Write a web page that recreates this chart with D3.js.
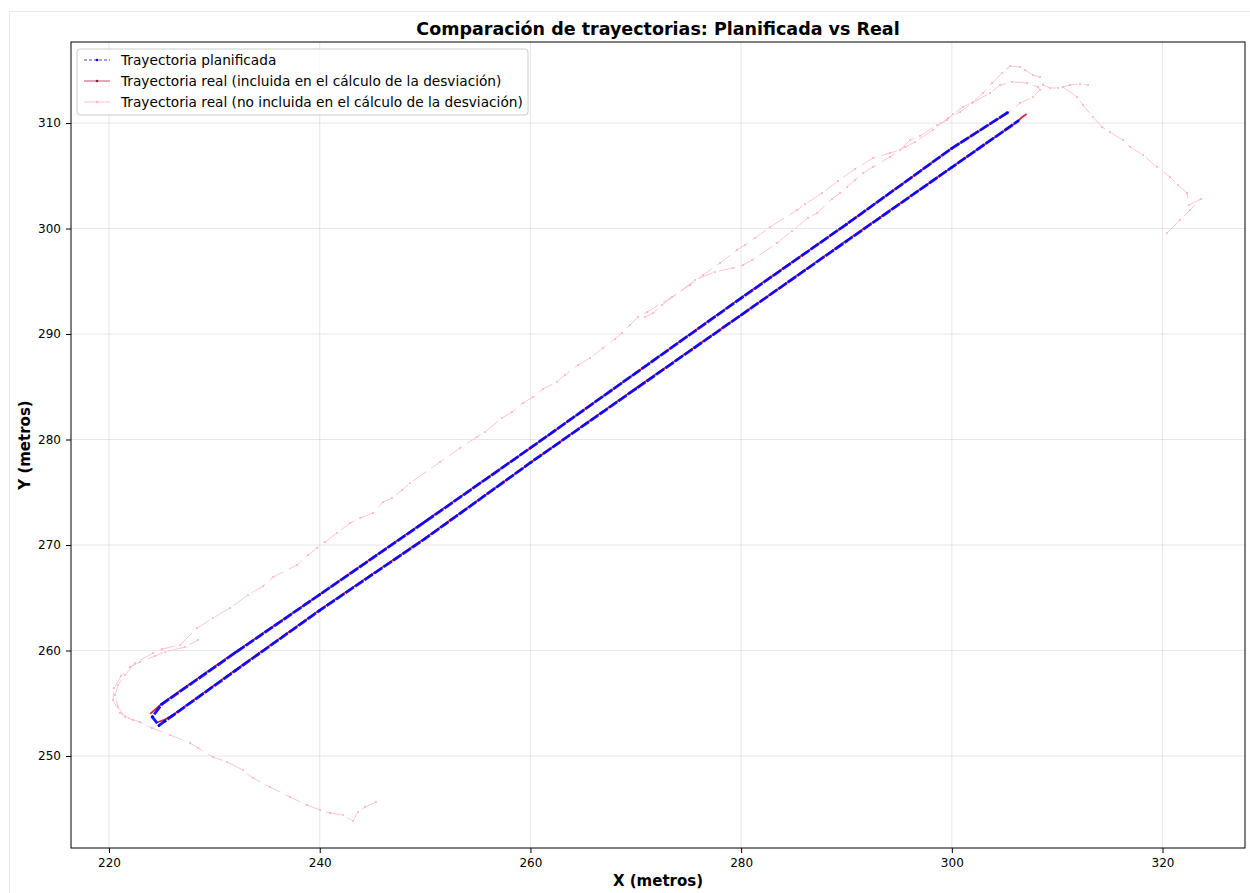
<!DOCTYPE html>
<html>
<head>
<meta charset="utf-8">
<script src="https://cdn.jsdelivr.net/npm/d3@7"></script>
<style>
  html, body { margin: 0; padding: 0; background: #fff; }
  svg { display: block; font-family: "DejaVu Sans", sans-serif; }
</style>
</head>
<body>
<div id="chart"></div>
<script>
// Ticks
const xTicks = [220, 240, 260, 280, 300, 320];
const yTicks = [250, 260, 270, 280, 290, 300, 310];

// Planned trajectory: upper pass, turn, lower pass
const planned = [
  [305.3, 311.0], [300.0, 307.6], [290.0, 300.4], [280.0, 293.4], [270.0, 286.3],
  [260.0, 279.2], [250.0, 272.2], [240.0, 265.3], [232.0, 259.8], [225.0, 254.9],
  [224.1, 253.7], [224.75, 252.9], [225.3, 253.3], [226.0, 253.8],
  [232.0, 258.1], [240.0, 263.8], [250.0, 270.6], [260.0, 277.8], [270.0, 284.8],
  [280.0, 291.8], [290.0, 298.8], [300.0, 305.8], [306.3, 310.2]
];

// Real trajectory, points included in the deviation (null = gap)
const realIncluded = [
  [223.9, 254.0], [225.0, 254.95], [232.0, 259.85], [240.0, 265.3], [250.0, 272.25],
  [260.0, 279.2], [270.0, 286.3], [280.0, 293.45], [290.0, 300.4], [300.0, 307.6], [305.3, 310.95],
  null,
  [224.6, 253.2], [225.3, 253.45], [226.0, 253.85], [232.0, 258.15], [240.0, 263.85],
  [250.0, 270.65], [260.0, 277.8], [270.0, 284.85], [280.0, 291.8], [290.0, 298.85],
  [300.0, 305.8], [306.3, 310.2], [306.6, 310.5], [307.1, 310.85]
];

// Real trajectory, points not included (null = gap)
const realExcluded = [
  [245.34, 245.64], [244.30, 245.16], [243.64, 244.69], [243.16, 243.84], [242.21, 244.41],
  [240.98, 244.60], [240.03, 244.88], [238.79, 245.35], [237.18, 246.11], [235.28, 247.06],
  [233.67, 247.91], [232.72, 248.67], [231.20, 249.43], [229.87, 249.90], [228.45, 250.76],
  [227.69, 251.23], [225.79, 251.99], [224.08, 252.65], [222.94, 253.22], [221.52, 253.69],
  [220.85, 254.64], [220.57, 255.78], [220.85, 256.73], [221.52, 257.68], [222.47, 258.81],
  [224.18, 259.76], [225.03, 260.14], [226.74, 260.52], [228.35, 262.13], [229.87, 263.08],
  [231.49, 264.03], [233.19, 265.26], [234.62, 266.11], [235.57, 266.97], [237.85, 268.10],
  [238.89, 269.05], [239.74, 269.71], [240.50, 270.28], [241.64, 271.14], [242.88, 272.08],
  [243.83, 272.56], [245.06, 273.03], [246.01, 274.07], [246.86, 274.45], [247.81, 275.21],
  [248.57, 275.88], [251.42, 277.87], [253.32, 279.19], [254.93, 280.24], [255.69, 280.71],
  [257.30, 282.04], [258.25, 282.61], [259.30, 283.46], [260.25, 284.03], [261.20, 284.79],
  [262.52, 285.45], [263.28, 286.11], [264.52, 287.06], [265.66, 287.72], [266.89, 288.67],
  [268.03, 289.53], [268.69, 290.09], [269.45, 290.85], [270.21, 291.61], [271.07, 292.08],
  [273.44, 293.51], [275.15, 294.64], [276.38, 295.59], [278.00, 296.73], [279.61, 297.96],
  [280.37, 298.44], [281.32, 299.10], [282.74, 300.14], [285.31, 301.75], [286.07, 302.32],
  [287.68, 303.36], [289.20, 304.50], [290.81, 305.64], [292.52, 306.68], [294.13, 307.16],
  [295.08, 307.44], [296.03, 308.39], [296.98, 308.77], [298.60, 309.81], [299.54, 310.28],
  [300.11, 310.85], [301.06, 311.52], [302.01, 311.99], [302.96, 312.84], [303.82, 313.79],
  [304.77, 314.74], [305.52, 315.40], [306.47, 315.31], [306.95, 315.02], [307.71, 314.55],
  [308.37, 314.36], [308.66, 313.60], [309.32, 313.32], [310.08, 313.32], [311.22, 313.60],
  [312.17, 313.70], [312.93, 313.60],
  null,
  [270.88, 291.61], [271.64, 291.99], [272.49, 292.75], [275.62, 295.12], [277.52, 295.88],
  [279.23, 296.26], [280.18, 296.54], [281.04, 297.01], [283.41, 298.63], [284.83, 299.76],
  [286.35, 301.00], [287.21, 301.47], [288.63, 302.80], [289.39, 303.36], [290.05, 303.93],
  [290.81, 304.60], [291.57, 305.26], [292.52, 305.83], [294.13, 306.78], [295.56, 307.73],
  [296.51, 308.20], [298.21, 309.34], [299.64, 310.47], [300.78, 311.04], [301.92, 311.90],
  [303.63, 312.84], [304.58, 313.60], [305.71, 313.89], [307.14, 313.79], [308.18, 313.41],
  [308.37, 313.13], [307.71, 312.46], [306.47, 311.90], [305.33, 310.95],
  null,
  [310.55, 313.41], [311.88, 312.46], [312.45, 311.71], [313.40, 310.57], [314.26, 309.62],
  [315.01, 309.15], [316.25, 308.39], [316.91, 307.73], [318.15, 306.97], [319.48, 305.83],
  [320.71, 304.88], [321.47, 304.12], [322.33, 303.36], [322.52, 302.23], [323.65, 302.80],
  [322.61, 301.75], [321.66, 300.81], [320.43, 299.57],
  null,
  [222.28, 253.41], [221.04, 254.07], [220.38, 255.31], [220.47, 256.45], [221.14, 257.58],
  [221.99, 258.44], [222.94, 258.91], [224.37, 259.48], [225.32, 259.86], [227.21, 260.33],
  [228.45, 261.00]
];

const legendLabels = [
  "Trayectoria planificada",
  "Trayectoria real (incluida en el cálculo de la desviación)",
  "Trayectoria real (no incluida en el cálculo de la desviación)"
];

const width = 1250;
const height = 893;
const margin = { top: 42, right: 5, bottom: 45, left: 71 };
const innerWidth = width - margin.left - margin.right;
const innerHeight = height - margin.top - margin.bottom;

const colors = { planned: "#0000ff", real: "#d0102e", excluded: "#ffb6c1" };

const svg = d3.select("#chart").append("svg")
  .attr("width", width)
  .attr("height", height)
  .attr("viewBox", `0 0 ${width} ${height}`);

// faint figure outline (top and left edges only are visible)
svg.append("line")
  .attr("x1", 9.5).attr("x2", width).attr("y1", 11.5).attr("y2", 11.5)
  .attr("stroke", "#ebebeb");
svg.append("line")
  .attr("x1", 9.5).attr("x2", 9.5).attr("y1", 11.5).attr("y2", height)
  .attr("stroke", "#ebebeb");

const x = d3.scaleLinear().domain([216.39, 327.83]).range([0, innerWidth]);
const y = d3.scaleLinear().domain([241.28, 317.68]).range([innerHeight, 0]);

const chart = svg.append("g").attr("transform", `translate(${margin.left}, ${margin.top})`);

// grid
chart.append("g")
  .selectAll("line.gx").data(xTicks).enter().append("line")
  .attr("x1", (d) => x(d)).attr("x2", (d) => x(d))
  .attr("y1", 0).attr("y2", innerHeight)
  .attr("stroke", "#b0b0b0").attr("stroke-opacity", 0.3).attr("stroke-width", 1);
chart.append("g")
  .selectAll("line.gy").data(yTicks).enter().append("line")
  .attr("x1", 0).attr("x2", innerWidth)
  .attr("y1", (d) => y(d)).attr("y2", (d) => y(d))
  .attr("stroke", "#b0b0b0").attr("stroke-opacity", 0.3).attr("stroke-width", 1);

const line = d3.line()
  .defined((d) => d !== null)
  .x((d) => x(d[0]))
  .y((d) => y(d[1]));

// not included (pink)
chart.append("path")
  .attr("d", line(realExcluded))
  .attr("fill", "none")
  .attr("stroke", colors.excluded)
  .attr("stroke-width", 1)
  .attr("stroke-dasharray", "16,6")
  .attr("opacity", 0.8);
chart.append("g").selectAll("circle")
  .data(realExcluded.filter((d) => d !== null)).enter().append("circle")
  .attr("cx", (d) => x(d[0])).attr("cy", (d) => y(d[1]))
  .attr("r", 1.1).attr("fill", colors.excluded);

// real included (red)
chart.append("path")
  .attr("d", line(realIncluded))
  .attr("fill", "none")
  .attr("stroke", colors.real)
  .attr("stroke-width", 1.8)
  .attr("opacity", 0.9);

// planned (blue dashed)
chart.append("path")
  .attr("d", line(planned))
  .attr("fill", "none")
  .attr("stroke", colors.planned)
  .attr("stroke-width", 2.8)
  .attr("stroke-dasharray", "10,1.5")
  .attr("opacity", 0.9);
chart.append("g").selectAll("circle")
  .data(planned).enter().append("circle")
  .attr("cx", (d) => x(d[0])).attr("cy", (d) => y(d[1]))
  .attr("r", 1.3).attr("fill", colors.planned);

// axes
chart.append("g")
  .attr("transform", `translate(0, ${innerHeight})`)
  .call(d3.axisBottom(x).tickValues(xTicks).tickSize(5).tickPadding(5).tickFormat(d3.format("d")))
  .call((g) => g.select(".domain").remove())
  .call((g) => g.selectAll(".tick line").attr("stroke", "#000"))
  .call((g) => g.selectAll(".tick text").attr("fill", "#000").attr("font-size", 12)
    .attr("font-family", "DejaVu Sans"));

chart.append("g")
  .call(d3.axisLeft(y).tickValues(yTicks).tickSize(5).tickPadding(5).tickFormat(d3.format("d")))
  .call((g) => g.select(".domain").remove())
  .call((g) => g.selectAll(".tick line").attr("stroke", "#000"))
  .call((g) => g.selectAll(".tick text").attr("fill", "#000").attr("font-size", 12)
    .attr("font-family", "DejaVu Sans"));

chart.append("rect")
  .attr("x", 0).attr("y", 0)
  .attr("width", innerWidth).attr("height", innerHeight)
  .attr("fill", "none").attr("stroke", "#000").attr("stroke-width", 1);

// title and labels
svg.append("text")
  .attr("x", margin.left + innerWidth / 2).attr("y", 35)
  .attr("text-anchor", "middle")
  .attr("font-size", 17.5).attr("font-weight", "bold")
  .text("Comparación de trayectorias: Planificada vs Real");

svg.append("text")
  .attr("x", margin.left + innerWidth / 2).attr("y", 886)
  .attr("text-anchor", "middle")
  .attr("font-size", 15).attr("font-weight", "bold")
  .text("X (metros)");

svg.append("text")
  .attr("transform", `translate(30, ${margin.top + innerHeight / 2}) rotate(-90)`)
  .attr("text-anchor", "middle")
  .attr("font-size", 15).attr("font-weight", "bold")
  .text("Y (metros)");

// legend
const legend = svg.append("g").attr("transform", `translate(${margin.left + 6}, ${margin.top + 7})`);
legend.append("rect")
  .attr("width", 451).attr("height", 66).attr("rx", 3)
  .attr("fill", "#fff").attr("fill-opacity", 0.8)
  .attr("stroke", "#cccccc");

const legendStyles = [
  { color: colors.planned, dash: "3,2", width: 1, opacity: 0.75 },
  { color: "#c83a5a", dash: null, width: 1, opacity: 0.9 },
  { color: colors.excluded, dash: null, width: 1, opacity: 0.8 }
];

legendLabels.forEach((label, i) => {
  const row = legend.append("g").attr("transform", `translate(0, ${11 + i * 21})`);
  const st = legendStyles[i];
  row.append("line")
    .attr("x1", 7).attr("x2", 33).attr("y1", 0).attr("y2", 0)
    .attr("stroke", st.color).attr("stroke-width", st.width)
    .attr("stroke-dasharray", st.dash).attr("opacity", st.opacity);
  row.append("circle")
    .attr("cx", 20).attr("cy", 0).attr("r", 1.3)
    .attr("fill", i === 1 ? "#802040" : st.color);
  row.append("text")
    .attr("x", 44).attr("y", 5)
    .attr("font-size", 13.7)
    .attr("fill", "#000")
    .text(label);
});
</script>
</body>
</html>
